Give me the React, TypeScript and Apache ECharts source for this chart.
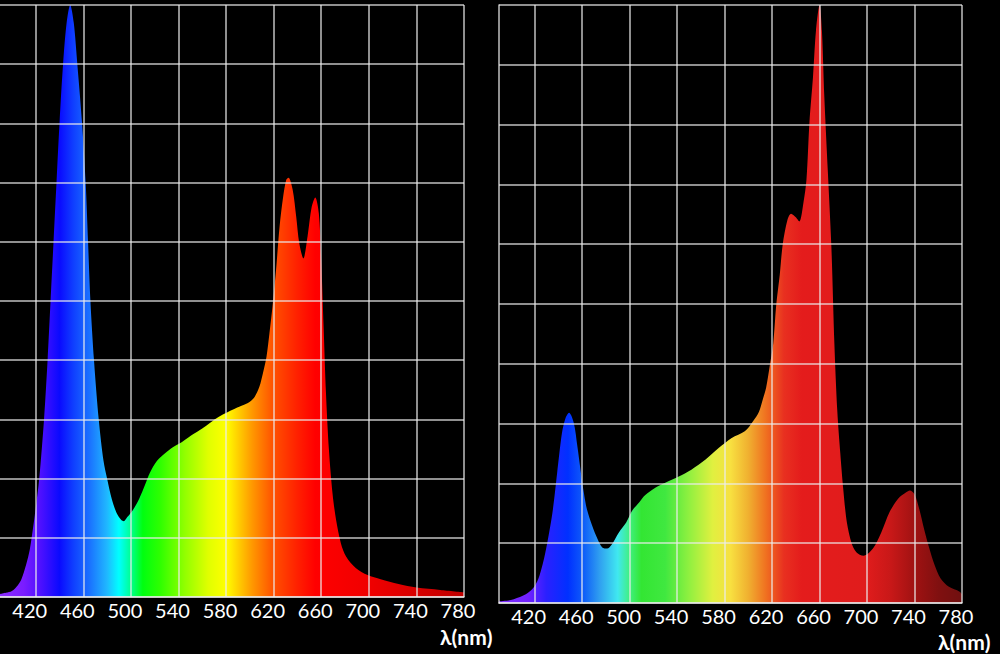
import React, { useEffect, useRef } from "react";
import * as echarts from "echarts";

// ---------- data ----------
const tickWavelengths = [420, 460, 500, 540, 580, 620, 660, 700, 740, 780];
const axisTitle = "λ(nm)";

const leftWavelengths = [
  390, 395, 400, 405, 408, 412, 415, 418, 420, 423, 427, 430, 432.5, 435, 437.5, 440, 443, 446, 449,
  452, 455, 459, 462, 464, 466, 469, 473, 477, 480, 484, 488, 492, 494, 497, 502, 507, 512, 516, 522,
  530, 537, 543, 550, 558, 565, 572, 579, 585, 593, 600, 604, 608, 611, 614, 616.5, 619, 622, 625,
  628, 630.5, 632.5, 636, 639, 641.5, 645, 648.5, 652, 655, 658, 660, 662, 664, 666.5, 669.5, 672.5,
  676.5, 681, 689, 699, 710, 725, 740, 760, 780,
];
const leftValues = [
  0.05, 0.07, 0.1, 0.2, 0.3, 0.55, 0.8, 1.2, 1.5, 2.0, 3.0, 4.0, 5.0, 6.0, 7.0, 8.0, 9.0, 9.7, 10.0,
  9.7, 9.0, 8.0, 7.0, 6.0, 5.0, 4.0, 3.0, 2.3, 2.0, 1.65, 1.42, 1.3, 1.28, 1.35, 1.48, 1.66, 1.9, 2.1,
  2.3, 2.45, 2.55, 2.62, 2.72, 2.82, 2.92, 3.02, 3.1, 3.16, 3.23, 3.3, 3.38, 3.55, 3.78, 4.06, 4.46,
  4.9, 5.52, 6.26, 6.76, 7.04, 7.08, 6.88, 6.42, 5.98, 5.72, 6.09, 6.59, 6.75, 6.48, 5.69, 4.57, 3.44,
  2.48, 1.75, 1.3, 0.91, 0.68, 0.49, 0.37, 0.3, 0.22, 0.16, 0.12, 0.08,
];

const rightWavelengths = [
  390, 400, 410, 415, 420, 424, 429, 435, 439, 443, 446, 449, 453, 456, 459, 461.5, 464, 468.5, 473,
  477, 481, 485, 491, 497, 502, 508, 513, 522, 530, 541, 552, 564, 575, 586, 597, 604, 609, 612, 615,
  618, 621, 623.5, 626.5, 629, 633, 636, 640, 643, 646.5, 649, 651.5, 654.5, 657, 660, 662, 664, 667,
  670, 672.5, 675, 677.5, 680, 683, 687, 691, 697, 705, 712, 719, 726, 733, 736, 740, 744, 748, 752.5,
  757, 762, 769, 778, 780,
];
const rightValues = [
  0.03, 0.05, 0.12, 0.18, 0.28, 0.45, 0.84, 1.51, 2.18, 2.84, 3.09, 3.18, 3.01, 2.62, 2.18, 1.84, 1.57,
  1.29, 1.07, 0.93, 0.91, 0.98, 1.18, 1.34, 1.54, 1.68, 1.8, 1.93, 2.01, 2.11, 2.23, 2.4, 2.59, 2.76,
  2.87, 3.04, 3.2, 3.39, 3.6, 3.96, 4.34, 4.98, 5.49, 6.0, 6.41, 6.51, 6.45, 6.38, 6.7, 7.08, 8.04, 8.8,
  9.57, 10.0, 9.57, 8.48, 7.21, 5.94, 4.34, 3.2, 2.5, 1.9, 1.35, 1.0, 0.85, 0.79, 0.91, 1.18, 1.52,
  1.74, 1.85, 1.88, 1.82, 1.57, 1.24, 0.91, 0.63, 0.41, 0.27, 0.19, 0.15,
];

// ---------- styling ----------
const X_MIN = 390;
const X_MAX = 780;
const FONT = "Lato, 'Open Sans', sans-serif";

const leftStops: [number, string][] = [
  [390, "#8a2cff"],
  [410, "#7a1cff"],
  [425, "#4a10ff"],
  [440, "#0a0aff"],
  [452, "#1040ff"],
  [465, "#1a70ff"],
  [480, "#20b8ff"],
  [490, "#00ffff"],
  [500, "#00ff90"],
  [510, "#00ff10"],
  [525, "#30ff00"],
  [545, "#90ff00"],
  [565, "#e0ff00"],
  [580, "#ffff00"],
  [590, "#ffd000"],
  [602, "#ff9800"],
  [620, "#ff5000"],
  [640, "#ff2000"],
  [655, "#ff0000"],
  [700, "#f00000"],
  [740, "#d80000"],
  [780, "#c00000"],
];

const rightStops: [number, string][] = [
  [390, "#8030ff"],
  [415, "#7020ff"],
  [430, "#2a20ff"],
  [448, "#0030ff"],
  [462, "#1060f8"],
  [475, "#30a0f0"],
  [490, "#40e8f0"],
  [500, "#40f080"],
  [510, "#33e633"],
  [530, "#40e840"],
  [550, "#90f040"],
  [570, "#e0f040"],
  [585, "#f8e040"],
  [600, "#f0b030"],
  [615, "#f07020"],
  [630, "#e83020"],
  [645, "#e41c1c"],
  [700, "#e01c1c"],
  [720, "#c81818"],
  [740, "#a01212"],
  [760, "#801010"],
  [780, "#701010"],
];

const gridLine = { color: "rgba(235,235,235,0.82)", width: 1.5 };

function gradient(stops: [number, string][]) {
  return new echarts.graphic.LinearGradient(
    0,
    0,
    1,
    0,
    stops.map(([w, c]) => ({ offset: (w - X_MIN) / (X_MAX - X_MIN), color: c }))
  );
}

function zip(xs: number[], ys: number[]) {
  return xs.map((x, i) => [x, ys[i]]);
}

function xAxisFor(gridIndex: number) {
  return {
    gridIndex,
    type: "value",
    min: X_MIN,
    max: X_MAX,
    z: 5,
    axisLine: { show: true, onZero: false, lineStyle: gridLine },
    axisTick: { show: false, customValues: tickWavelengths },
    axisLabel: {
      customValues: tickWavelengths,
      color: "#ffffff",
      fontSize: 20,
      lineHeight: 20,
      fontFamily: FONT,
      margin: 3,
      padding: [0, 12, 0, 0],
    },
    splitLine: { show: true, lineStyle: gridLine },
  };
}

function yAxisFor(gridIndex: number, showLine: boolean) {
  return {
    gridIndex,
    type: "value",
    min: 0,
    max: 10,
    interval: 1,
    z: 5,
    axisLine: { show: showLine, lineStyle: gridLine },
    axisTick: { show: false },
    axisLabel: { show: false },
    splitLine: { show: true, lineStyle: gridLine },
  };
}

export default function App() {
  const ref = useRef<HTMLDivElement>(null);

  useEffect(() => {
    if (!ref.current) return;
    const chart = echarts.init(ref.current, undefined, { renderer: "svg" });
    chart.setOption({
      animation: false,
      backgroundColor: "#000000",
      grid: [
        { left: 0, top: 5, width: 464, height: 592 },
        { left: 499, top: 5, width: 463, height: 598 },
      ],
      xAxis: [xAxisFor(0), xAxisFor(1)],
      yAxis: [yAxisFor(0, false), yAxisFor(1, true)],
      series: [
        {
          type: "line",
          xAxisIndex: 0,
          yAxisIndex: 0,
          data: zip(leftWavelengths, leftValues),
          smooth: 0.3,
          showSymbol: false,
          symbol: "none",
          lineStyle: { width: 0 },
          areaStyle: { color: gradient(leftStops), opacity: 1 },
          z: 2,
        },
        {
          type: "line",
          xAxisIndex: 1,
          yAxisIndex: 1,
          data: zip(rightWavelengths, rightValues),
          smooth: 0.3,
          showSymbol: false,
          symbol: "none",
          lineStyle: { width: 0 },
          areaStyle: { color: gradient(rightStops), opacity: 1 },
          z: 2,
        },
      ],
      graphic: [
        {
          type: "text",
          left: 440,
          top: 626,
          style: {
            text: axisTitle,
            fill: "#ffffff",
            font: `bold 21px ${FONT}`,
          },
        },
        {
          type: "text",
          left: 938,
          top: 631,
          style: {
            text: axisTitle,
            fill: "#ffffff",
            font: `bold 21px ${FONT}`,
          },
        },
      ],
    });
    return () => chart.dispose();
  }, []);

  return (
    <div
      ref={ref}
      style={{
        position: "fixed",
        left: 0,
        top: 0,
        width: 1000,
        height: 654,
        background: "#000",
      }}
    />
  );
}
